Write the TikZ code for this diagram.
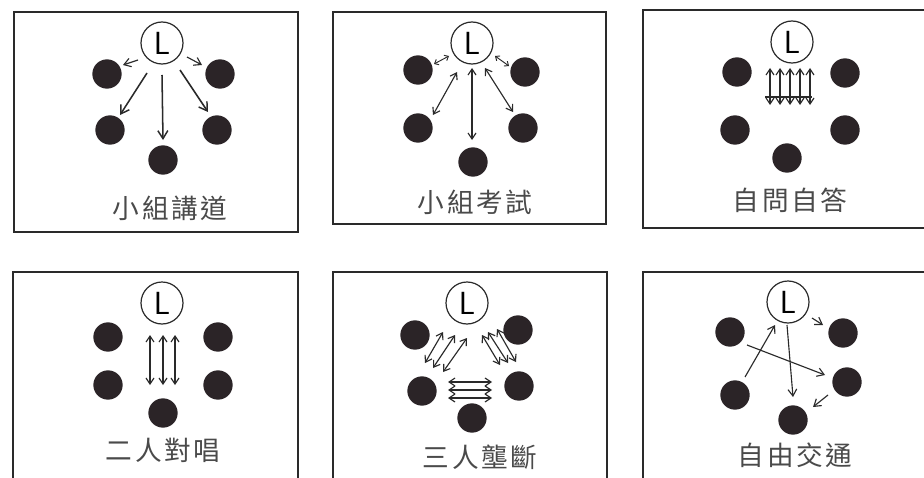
\documentclass[tikz,border=0pt]{standalone}
\usepackage{fontspec}
\newfontfamily\cjk[LetterSpace=10]{Noto Sans CJK TC}
\usetikzlibrary{arrows.meta}
\definecolor{ink}{HTML}{2A2A2A}
\definecolor{dotc}{HTML}{2B2427}
\tikzset{
  panel/.style={draw=ink, line width=1.4pt},
  lead/.style={circle, draw=ink, line width=0.9pt, fill=white, minimum size=31.5pt, inner sep=0pt, font=\fontsize{24}{24}\selectfont\sffamily},
  member/.style={circle, fill=dotc, minimum size=22pt, inner sep=0pt},
  caption/.style={text=ink!85, font=\cjk\fontsize{20}{20}\selectfont},
  arr/.style={draw=ink, line width=0.85pt, -{Straight Barb[length=5pt,width=6.5pt,line width=0.85pt]}},
  barr/.style={arr, line width=1.15pt, -{Straight Barb[length=6pt,width=7.5pt,line width=1.1pt]}},
  darr/.style={draw=ink, line width=0.85pt, {Straight Barb[length=4.5pt,width=6pt,line width=0.85pt]}-{Straight Barb[length=4.5pt,width=6pt,line width=0.85pt]}},
  sdarr/.style={draw=ink, line width=0.7pt, {Straight Barb[length=2.6pt,width=4.5pt,line width=0.7pt]}-{Straight Barb[length=2.6pt,width=4.5pt,line width=0.7pt]}},
}
\begin{document}
\begin{tikzpicture}[x=0.75pt, y=-0.75pt]
\useasboundingbox (0,0) rectangle (924,478);
\clip (0,0) rectangle (924,478);
\fill[white] (0,0) rectangle (924,478);

% ---------- frames ----------
\draw[panel] (14,12) rectangle (298,232);
\draw[panel] (333,12) rectangle (606,224);
\draw[panel] (643,10) rectangle (935,228);
\draw[panel] (13,272) rectangle (298,495);
\draw[panel] (333,272) rectangle (607,495);
\draw[panel] (643,272) rectangle (935,495);

% ---------- panel 1 ----------
\node[lead] (p1L) at (162,43) {L};
\node[member] (p1a) at (107,74) {};
\node[member] (p1b) at (220,74) {};
\node[member] (p1c) at (110,130) {};
\node[member] (p1d) at (217,130) {};
\node[member] (p1e) at (163,160) {};
\draw[arr] ([shift={(-24,17)}]p1L.center) -- ([shift={(16,-9)}]p1a.center);
\draw[arr] ([shift={(25,14)}]p1L.center) -- ([shift={(-18,-9)}]p1b.center);
\draw[barr] ([shift={(-15,30)}]p1L.center) -- ([shift={(10,-15)}]p1c.center);
\draw[barr] ([shift={(0,32)}]p1L.center) -- ([shift={(0,-20)}]p1e.center);
\draw[barr] ([shift={(18,27)}]p1L.center) -- ([shift={(-9,-18)}]p1d.center);
\node[caption] (t1) at (170,208) {小組講道};

% ---------- panel 2 ----------
\node[lead] (p2L) at (472,43) {L};
\node[member] (p2a) at (418,70) {};
\node[member] (p2b) at (525,72) {};
\node[member] (p2c) at (418,128) {};
\node[member] (p2d) at (523,128) {};
\node[member] (p2e) at (473,162) {};
\draw[sdarr] ([shift={(16,-6)}]p2a.center) -- ([shift={(-23,13)}]p2L.center);
\draw[sdarr] ([shift={(23,13)}]p2L.center) -- ([shift={(-16,-6)}]p2b.center);
\draw[darr] ([shift={(15,-13)}]p2c.center) -- ([shift={(-15,29)}]p2L.center);
\draw[darr] ([shift={(0,25)}]p2L.center) -- ([shift={(-1,-22)}]p2e.center);
\draw[darr] ([shift={(13,25)}]p2L.center) -- ([shift={(-10,-16)}]p2d.center);
\node[caption] (t2) at (475,202) {小組考試};

% ---------- panel 3 ----------
\node[lead] (p3L) at (792,42) {L};
\node[member] (p3a) at (737,72) {};
\node[member] (p3b) at (845,73) {};
\node[member] (p3c) at (735,130) {};
\node[member] (p3d) at (845,130) {};
\node[member] (p3e) at (787,158) {};
\foreach \dx in {-22,-12,-2,8,18}
  \draw[darr] ([shift={(\dx,26)}]p3L.center) -- ([shift={(\dx,63)}]p3L.center);
\draw[draw=ink, line width=0.8pt] ([shift={(-27,55)}]p3L.center) -- ([shift={(20,55)}]p3L.center);
\node[caption] (t3) at (790,200) {自問自答};

% ---------- panel 4 ----------
\node[lead] (p4L) at (162,303) {L};
\node[member] (p4a) at (108,337) {};
\node[member] (p4b) at (218,337) {};
\node[member] (p4c) at (108,385) {};
\node[member] (p4d) at (218,385) {};
\node[member] (p4e) at (163,413) {};
\foreach \dx in {-12,1,13}
  \draw[darr] ([shift={(\dx,32)}]p4L.center) -- ([shift={(\dx,82)}]p4L.center);
\node[caption] (t4) at (163,450) {二人對唱};

% ---------- panel 5 ----------
\node[lead] (p5L) at (467,303) {L};
\node[member] (p5a) at (415,335) {};
\node[member] (p5b) at (518,330) {};
\node[member] (p5c) at (422,391) {};
\node[member] (p5d) at (519,386) {};
\node[member] (p5e) at (472,418) {};
\draw[darr] ([shift={(-24,29)}]p5L.center) -- ([shift={(3,-28)}]p5c.center);
\draw[darr] ([shift={(-12,32)}]p5L.center) -- ([shift={(11,-23)}]p5c.center);
\draw[darr] ([shift={(0,35)}]p5L.center) -- ([shift={(21,-19)}]p5c.center);
\draw[darr] ([shift={(15,32)}]p5L.center) -- ([shift={(-19,-21)}]p5d.center);
\draw[darr] ([shift={(21,29)}]p5L.center) -- ([shift={(-11,-23)}]p5d.center);
\draw[darr] ([shift={(30,26)}]p5L.center) -- ([shift={(-3,-24)}]p5d.center);
\draw[darr] ([shift={(26,-9)}]p5c.center) -- ([shift={(-27,-4)}]p5d.center);
\draw[darr] ([shift={(26,-1)}]p5c.center) -- ([shift={(-27,4)}]p5d.center);
\draw[darr] ([shift={(26,7)}]p5c.center) -- ([shift={(-27,12)}]p5d.center);
\node[caption] (t5) at (480,457) {三人壟斷};

% ---------- panel 6 ----------
\node[lead] (p6L) at (788,302) {L};
\node[member] (p6a) at (730,332) {};
\node[member] (p6b) at (843,333) {};
\node[member] (p6c) at (735,395) {};
\node[member] (p6d) at (847,382) {};
\node[member] (p6e) at (793,420) {};
\draw[arr] ([shift={(10,-18)}]p6c.center) -- ([shift={(-13,23)}]p6L.center);
\draw[arr] ([shift={(17,13)}]p6a.center) -- ([shift={(-22,-7)}]p6d.center);
\draw[arr] ([shift={(-1,23)}]p6L.center) -- ([shift={(0,-23)}]p6e.center);
\draw[arr] ([shift={(24,16)}]p6L.center) -- ([shift={(-20,-8)}]p6b.center);
\draw[arr] ([shift={(-19,13)}]p6d.center) -- ([shift={(20,-13)}]p6e.center);
\node[caption] (t6) at (795,455) {自由交通};
\end{tikzpicture}
\end{document}
